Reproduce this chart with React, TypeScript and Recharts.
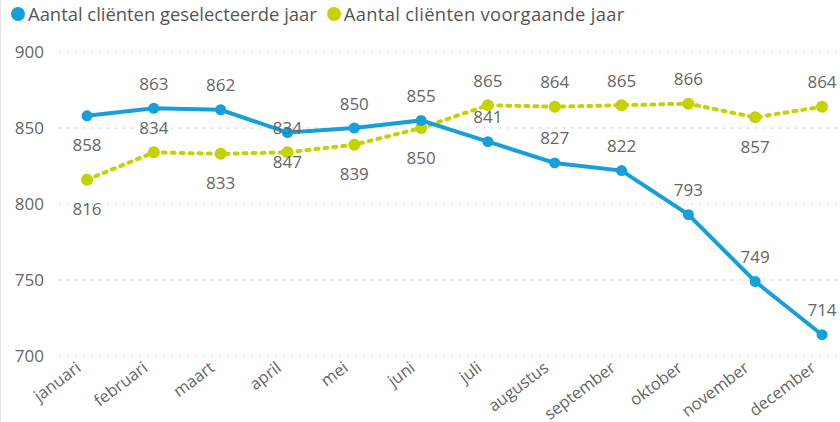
import { CartesianGrid, Line, LineChart, XAxis, YAxis } from "recharts";

const MONTHS = [
  "januari", "februari", "maart", "april", "mei", "juni",
  "juli", "augustus", "september", "oktober", "november", "december",
];
const SELECTED = [858, 863, 862, 847, 850, 855, 841, 827, 822, 793, 749, 714];
const PREVIOUS = [816, 834, 833, 834, 839, 850, 865, 864, 865, 866, 857, 864];
const Y_TICKS = [700, 750, 800, 850, 900];

// label placement per point ("a" = above, "b" = below), like the Power BI layout
const SELECTED_LABEL_POS = ["b", "a", "a", "b", "a", "a", "a", "a", "a", "a", "a", "a"];
const PREVIOUS_LABEL_POS = ["b", "a", "b", "a", "b", "b", "a", "a", "a", "a", "b", "a"];

const BLUE = "#169fd9";
const GREEN = "#c4d200";
const FONT = "'Open Sans', 'Noto Sans', sans-serif";

const data = MONTHS.map((m, i) => ({
  month: m,
  selected: SELECTED[i],
  previous: PREVIOUS[i],
}));

const makeLabel = (pos: string[]) => (props: any) => {
  const { x, y, value, index } = props;
  const below = pos[index] === "b";
  return (
    <text
      x={x}
      y={below ? y + 29 : y - 25}
      textAnchor="middle"
      dominantBaseline="central"
      fill="#666"
      fontSize={17}
      fontFamily={FONT}
    >
      {value}
    </text>
  );
};

// rotated month labels, anchored at their right end
const MonthTick = (props: any) => {
  const { x, y, payload } = props;
  return (
    <g transform={`translate(${x - 5},${y + 14})`}>
      <text transform="rotate(-37)" textAnchor="end" fill="#666" fontSize={16.5} fontFamily={FONT}>
        {payload.value}
      </text>
    </g>
  );
};

export default function App() {
  return (
    <div
      style={{
        position: "fixed",
        top: 0,
        left: 0,
        width: 840,
        height: 422,
        background: "#fff",
        fontFamily: FONT,
        borderLeft: "1px solid #e3e3e3",
        boxSizing: "border-box",
        overflow: "hidden",
      }}
    >
      <div
        style={{
          position: "absolute",
          top: 1,
          left: 10,
          display: "flex",
          alignItems: "center",
          fontSize: 18.4,
          color: "#555",
          whiteSpace: "nowrap",
        }}
      >
        <span style={{ width: 14, height: 14, borderRadius: 7, background: BLUE, marginRight: 3 }} />
        <span style={{ marginRight: 10 }}>Aantal cliënten geselecteerde jaar</span>
        <span style={{ width: 14, height: 14, borderRadius: 7, background: GREEN, marginRight: 3 }} />
        <span style={{ letterSpacing: 0.3 }}>Aantal cliënten voorgaande jaar</span>
      </div>
      <div style={{ position: "absolute", top: 0, left: -1 }}>
        <LineChart
          width={840}
          height={422}
          data={data}
          margin={{ top: 52, right: 0, bottom: 0, left: 0 }}
        >
          <CartesianGrid
            vertical={false}
            stroke="#c8c8c8"
            strokeDasharray="1 7"
            strokeWidth={1.5}
          />
          <XAxis
            dataKey="month"
            height={66}
            padding={{ left: 27, right: 18 }}
            axisLine={false}
            tickLine={false}
            tickSize={0}
            tickMargin={0}
            interval={0}
            tick={<MonthTick />}
          />
          <YAxis
            width={60}
            domain={[700, 900]}
            ticks={Y_TICKS}
            axisLine={false}
            tickLine={false}
            tickSize={0}
            tickMargin={16}
            tick={{ fill: "#666", fontSize: 17, fontFamily: FONT }}
          />
          <Line
            dataKey="previous"
            stroke={GREEN}
            strokeWidth={4}
            strokeDasharray="3 6"
            strokeLinecap="round"
            dot={{ r: 6, fill: GREEN, stroke: GREEN, strokeWidth: 0 }}
            label={makeLabel(PREVIOUS_LABEL_POS)}
            isAnimationActive={false}
          />
          <Line
            dataKey="selected"
            stroke={BLUE}
            strokeWidth={4}
            dot={{ r: 5.5, fill: BLUE, stroke: BLUE, strokeWidth: 0 }}
            label={makeLabel(SELECTED_LABEL_POS)}
            isAnimationActive={false}
          />
        </LineChart>
      </div>
    </div>
  );
}
